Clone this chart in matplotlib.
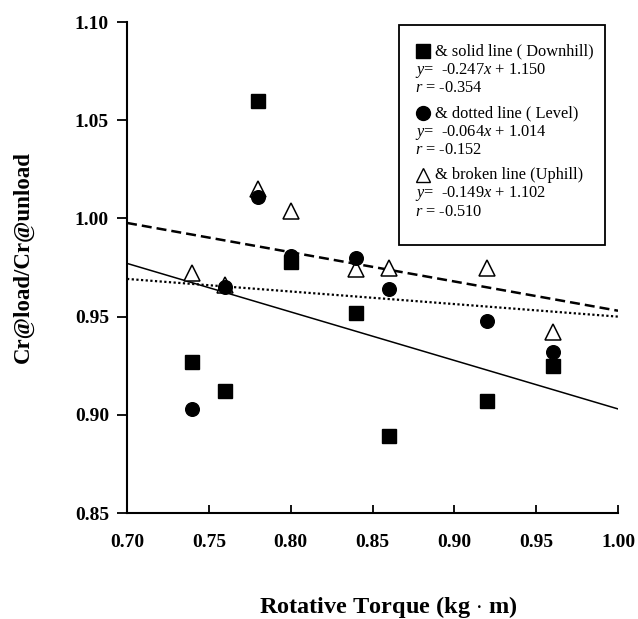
import matplotlib.pyplot as plt
import numpy as np
from matplotlib.patches import Rectangle

plt.rcParams['font.family'] = ['Liberation Serif', 'DejaVu Serif']
plt.rcParams['mathtext.fontset'] = 'custom'
plt.rcParams['mathtext.rm'] = 'Liberation Serif'
plt.rcParams['mathtext.it'] = 'Liberation Serif:italic'
plt.rcParams['mathtext.bf'] = 'Liberation Serif:bold'

# torque values (kg m)
torque = [0.74, 0.76, 0.78, 0.80, 0.84, 0.86, 0.92, 0.96]

# Cr ratios for each slope condition
downhill = [0.927, 0.912, 1.060, 0.978, 0.952, 0.889, 0.907, 0.925]
level = [0.903, 0.965, 1.011, 0.981, 0.980, 0.964, 0.948, 0.932]
uphill = [0.972, 0.966, 1.015, 1.004, 0.974, 0.975, 0.975, 0.942]

# regression lines (slope, intercept, r)
fit_down = (-0.247, 1.150, -0.354)
fit_level = (-0.064, 1.014, -0.152)
fit_up = (-0.149, 1.102, -0.510)

xticks = [0.70, 0.75, 0.80, 0.85, 0.90, 0.95, 1.00]
yticks = [0.85, 0.90, 0.95, 1.00, 1.05, 1.10]

fig = plt.figure(figsize=(6.38, 6.19), dpi=100)
ax = fig.add_axes([0.1991, 0.1712, 0.7696, 0.7932])

xl = np.array([0.70, 1.00])
ax.plot(xl, fit_down[0] * xl + fit_down[1], color='black', lw=1.1, ls='-')
ax.plot(xl, fit_level[0] * xl + fit_level[1], color='black', lw=1.6, ls=(0, (1, 1.1)))
ax.plot(xl, fit_up[0] * xl + fit_up[1], color='black', lw=1.8, ls=(0, (4, 2)))

ax.plot(torque, downhill, 's', color='black', ms=10.5, ls='none')
ax.plot(torque, uphill, '^', mfc='white', mec='black', mew=1.1, ms=11, ls='none')
ax.plot(torque, level, 'o', color='black', ms=9.8, ls='none')

ax.set_xlim(0.70, 1.00)
ax.set_ylim(0.85, 1.10)
ax.set_xticks(xticks)
ax.set_yticks(yticks)
ax.set_xticklabels(['%.2f' % v for v in xticks], fontsize=14, fontweight='bold')
ax.set_yticklabels(['%.2f' % v for v in yticks], fontsize=14, fontweight='bold')
ax.tick_params(axis='x', direction='in', length=6, width=1.3, pad=15)
ax.tick_params(axis='y', direction='out', length=7, width=1.3, pad=6)
for s in ['top', 'right']:
    ax.spines[s].set_visible(False)
for s in ['left', 'bottom']:
    ax.spines[s].set_linewidth(1.5)

fig.text(0.608, 0.019, 'Rotative Torque (kg $\\cdot$ m)', fontsize=17.5,
         fontweight='bold', ha='center', va='center')
fig.text(0.036, 0.584, 'Cr@load/Cr@unload', fontsize=16.5, fontweight='bold',
         rotation=90, ha='center', va='center')

# legend box with equations
W, H = 638.0, 619.0
def fx(px):
    return px / W
def fy(py):
    return 1 - py / H

fig.patches.append(Rectangle((fx(399), fy(245)), fx(605) - fx(399), fy(25) - fy(245),
                             transform=fig.transFigure, fill=False, ec='black', lw=1.3))

entries = [
    ('s', 'black', '& solid line ( Downhill)', fit_down, 51),
    ('o', 'black', '& dotted line ( Level)', fit_level, 113),
    ('^', 'white', '& broken line (Uphill)', fit_up, 175),
]
for mk, fc, label, fit, top in entries:
    fig.lines.append(plt.Line2D([fx(423)], [fy(top)], marker=mk, mfc=fc, mec='black',
                                mew=1.0, ms=10, ls='none', transform=fig.transFigure))
    fig.text(fx(435), fy(top), label, fontsize=11.8, va='center', ha='left')
    fig.text(fx(415), fy(top + 19), '$y$=  %.3f$x$ + %.3f' % (fit[0], fit[1]),
             fontsize=11.8, va='center', ha='left')
    fig.text(fx(415), fy(top + 37), '$r$ = %.3f' % fit[2],
             fontsize=11.8, va='center', ha='left')

fig.savefig('out.png', dpi=100)
